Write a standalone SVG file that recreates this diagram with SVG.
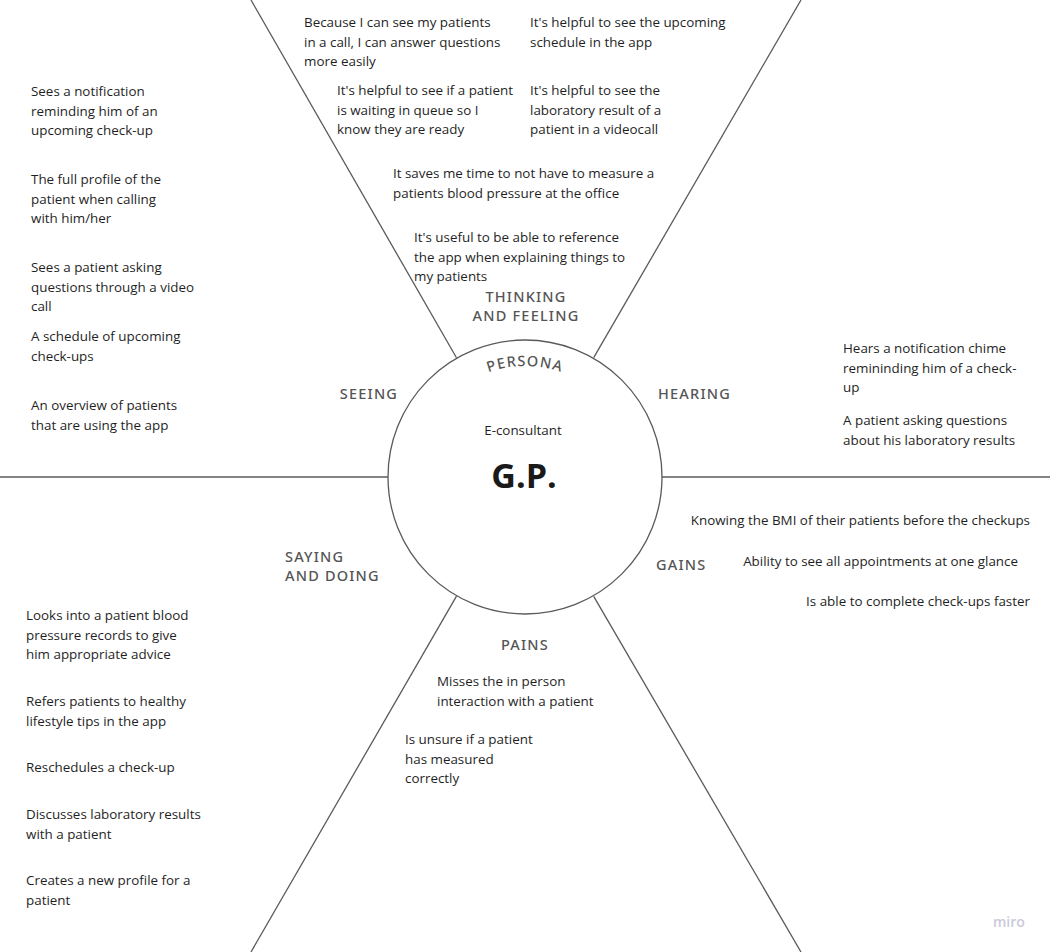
<svg xmlns="http://www.w3.org/2000/svg" width="1050" height="952" viewBox="0 0 1050 952">
<style>
.t{font-family:"Open Sans","Liberation Sans",sans-serif;font-size:13.4px;fill:#1f1f1f}
.h{font-family:"Noto Sans","Open Sans",sans-serif;font-size:14.5px;font-weight:500;fill:#555;letter-spacing:1.2px}
.ln{stroke:#5a5a5a;stroke-width:1.3;fill:none}
</style>
<defs>
<path id="arc" d="M414 477 A111 111 0 0 1 636 477"/>
</defs>
<rect width="1050" height="952" fill="#fff"/>
<g id="connectors">
<line class="ln" x1="0" y1="477" x2="388" y2="477"/>
<line class="ln" x1="662" y1="477" x2="1050" y2="477"/>
<line class="ln" x1="251" y1="0" x2="456.5" y2="357.8"/>
<line class="ln" x1="801" y1="0" x2="593.7" y2="357.6"/>
<line class="ln" x1="251" y1="952" x2="456.5" y2="596.2"/>
<line class="ln" x1="801" y1="952" x2="593.7" y2="596.4"/>
</g>
<g id="persona">
<circle class="ln" cx="525" cy="477" r="137"/>
<text class="h" font-size="14" letter-spacing="1.8"><textPath href="#arc" startOffset="50%" text-anchor="middle">PERSONA</textPath></text>
<text class="t" x="523" y="435" text-anchor="middle">E-consultant</text>
<text x="524" y="488" text-anchor="middle" style="font-family:'Open Sans','Liberation Sans',sans-serif;font-size:34px;font-weight:700;fill:#1a1a1a">G.P.</text>
</g>
<g id="thinking-feeling">
<text class="h" text-anchor="middle"><tspan x="526" y="302">THINKING</tspan><tspan x="526" y="321">AND FEELING</tspan></text>
<text class="t"><tspan x="304" y="27">Because I can see my patients</tspan><tspan x="304" y="46.5">in a call, I can answer questions</tspan><tspan x="304" y="66">more easily</tspan></text>
<text class="t"><tspan x="530" y="27">It's helpful to see the upcoming</tspan><tspan x="530" y="46.5">schedule in the app</tspan></text>
<text class="t"><tspan x="337" y="95">It's helpful to see if a patient</tspan><tspan x="337" y="114.5">is waiting in queue so I</tspan><tspan x="337" y="134">know they are ready</tspan></text>
<text class="t"><tspan x="530" y="95">It's helpful to see the</tspan><tspan x="530" y="114.5">laboratory result of a</tspan><tspan x="530" y="134">patient in a videocall</tspan></text>
<text class="t"><tspan x="393" y="178">It saves me time to not have to measure a</tspan><tspan x="393" y="197.5">patients blood pressure at the office</tspan></text>
<text class="t"><tspan x="414" y="242">It's useful to be able to reference</tspan><tspan x="414" y="261.5">the app when explaining things to</tspan><tspan x="414" y="281">my patients</tspan></text>
</g>
<g id="seeing">
<text class="h" x="369" y="399" text-anchor="middle">SEEING</text>
<text class="t"><tspan x="31" y="96">Sees a notification</tspan><tspan x="31" y="115.5">reminding him of an</tspan><tspan x="31" y="135">upcoming check-up</tspan></text>
<text class="t"><tspan x="31" y="184">The full profile of the</tspan><tspan x="31" y="203.5">patient when calling</tspan><tspan x="31" y="223">with him/her</tspan></text>
<text class="t"><tspan x="31" y="272">Sees a patient asking</tspan><tspan x="31" y="291.5">questions through a video</tspan><tspan x="31" y="311">call</tspan></text>
<text class="t"><tspan x="31" y="341">A schedule of upcoming</tspan><tspan x="31" y="360.5">check-ups</tspan></text>
<text class="t"><tspan x="31" y="410">An overview of patients</tspan><tspan x="31" y="429.5">that are using the app</tspan></text>
</g>
<g id="hearing">
<text class="h" x="658" y="399">HEARING</text>
<text class="t"><tspan x="843" y="353">Hears a notification chime</tspan><tspan x="843" y="372.5">remininding him of a check-</tspan><tspan x="843" y="392">up</tspan></text>
<text class="t"><tspan x="843" y="425">A patient asking questions</tspan><tspan x="843" y="444.5">about his laboratory results</tspan></text>
</g>
<g id="gains">
<text class="h" x="656" y="570">GAINS</text>
<text class="t" x="1030" y="525" text-anchor="end">Knowing the BMI of their patients before the checkups</text>
<text class="t" x="1018" y="566" text-anchor="end">Ability to see all appointments at one glance</text>
<text class="t" x="1030" y="606" text-anchor="end">Is able to complete check-ups faster</text>
</g>
<g id="pains">
<text class="h" x="525" y="650" text-anchor="middle">PAINS</text>
<text class="t"><tspan x="437" y="686">Misses the in person</tspan><tspan x="437" y="705.5">interaction with a patient</tspan></text>
<text class="t"><tspan x="405" y="744">Is unsure if a patient</tspan><tspan x="405" y="763.5">has measured</tspan><tspan x="405" y="783">correctly</tspan></text>
</g>
<g id="saying-doing">
<text class="h"><tspan x="285" y="562">SAYING</tspan><tspan x="285" y="581">AND DOING</tspan></text>
<text class="t"><tspan x="26" y="620">Looks into a patient blood</tspan><tspan x="26" y="640">pressure records to give</tspan><tspan x="26" y="659">him appropriate advice</tspan></text>
<text class="t"><tspan x="26" y="706">Refers patients to healthy</tspan><tspan x="26" y="725.5">lifestyle tips in the app</tspan></text>
<text class="t" x="26" y="772">Reschedules a check-up</text>
<text class="t"><tspan x="26" y="819">Discusses laboratory results</tspan><tspan x="26" y="838.5">with a patient</tspan></text>
<text class="t"><tspan x="26" y="885">Creates a new profile for a</tspan><tspan x="26" y="904.5">patient</tspan></text>
</g>
<text x="993" y="927" style="font-family:'Open Sans','Liberation Sans',sans-serif;font-size:14px;font-weight:600;fill:#c9cad8">miro</text>
</svg>
